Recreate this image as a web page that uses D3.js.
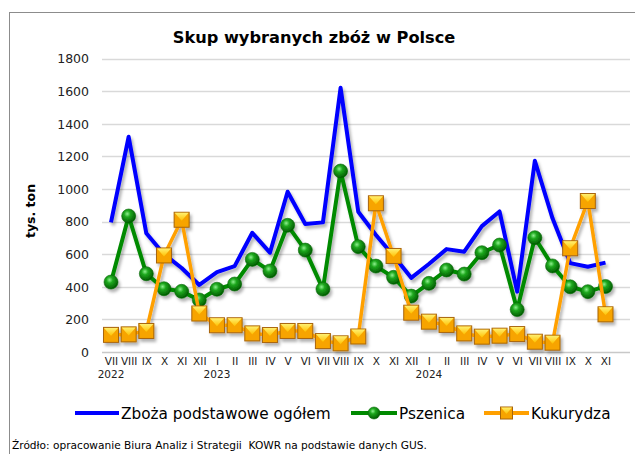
<!DOCTYPE html>
<html><head><meta charset="utf-8">
<script src="https://cdn.jsdelivr.net/npm/d3@7"></script>
<style>body{margin:0;background:#fff}svg{display:block}text{font-family:Verdana,"DejaVu Sans",sans-serif}</style>
</head><body>
<svg id="c" width="635" height="454"></svg>
<script>
const months = ["VII","VIII","IX","X","XI","XII","I","II","III","IV","V","VI","VII","VIII","IX","X","XI","XII","I","II","III","IV","V","VI","VII","VIII","IX","X","XI"];
const years = [{i:0,label:"2022"},{i:6,label:"2023"},{i:18,label:"2024"}];
const zboza = [795,1320,728,600,515,411,490,527,731,609,983,785,795,1620,860,718,590,455,540,631,615,772,862,370,1173,820,545,523,548];
const pszenica = [429,834,480,388,372,319,385,417,568,497,777,625,386,1110,646,527,458,343,421,503,478,609,656,260,701,528,400,370,402];
const kukurydza = [105,108,129,592,811,236,164,164,114,104,129,129,67,53,95,912,589,241,186,166,114,94,100,110,63,57,636,926,231];
const yTicks = [0,200,400,600,800,1000,1200,1400,1600,1800];
const seriesNames = ["Zboża podstawowe ogółem","Pszenica","Kukurydza"];

const svg = d3.select("#c");
const x = d3.scalePoint().domain(d3.range(months.length)).range([111, 605.5]);
const y = d3.scaleLinear().domain([0,1800]).range([352, 58.5]);

const defs = svg.append("defs");
const f = defs.append("filter").attr("id","sh").attr("x","-10%").attr("y","-10%").attr("width","130%").attr("height","130%");
f.append("feDropShadow").attr("dx",2).attr("dy",3).attr("stdDeviation",1.8).attr("flood-color","#000").attr("flood-opacity",0.3);
const rg = defs.append("radialGradient").attr("id","gball").attr("cx","40%").attr("cy","35%").attr("r","65%");
rg.append("stop").attr("offset","0%").attr("stop-color","#8ef08e");
rg.append("stop").attr("offset","35%").attr("stop-color","#1ea81e");
rg.append("stop").attr("offset","100%").attr("stop-color","#005a00");
const lg = defs.append("linearGradient").attr("id","otop").attr("x1","0").attr("y1","0").attr("x2","0").attr("y2","1");
lg.append("stop").attr("offset","0%").attr("stop-color","#fff070");
lg.append("stop").attr("offset","100%").attr("stop-color","#ffc000");

// frame
svg.append("rect").attr("x",9.5).attr("y",12.5).attr("width",700).attr("height",500)
  .attr("fill","#fff").attr("stroke","#8c8c8c").attr("stroke-width",1);

// title
svg.append("text").attr("x",314).attr("y",43).attr("text-anchor","middle")
  .attr("font-weight","bold").attr("font-size",16.2).attr("fill","#000").text("Skup wybranych zbóż w Polsce");

// grid
svg.append("g").selectAll("line").data(yTicks).join("line")
  .attr("x1",102).attr("x2",630).attr("y1",d=>Math.round(y(d))+0.5).attr("y2",d=>Math.round(y(d))+0.5)
  .attr("stroke",d=>d===0?"#c8c8c8":"#d9d9d9").attr("stroke-width",1.5);

// y axis labels
const yAxis = d3.axisLeft(y).tickValues(yTicks).tickFormat(d3.format("d")).tickSize(0).tickPadding(0);
const ya = svg.append("g").attr("transform","translate(89,0)").call(yAxis);
ya.select(".domain").remove();
ya.selectAll("text").attr("font-size",12.5).attr("fill","#222").attr("font-family",'Verdana,"DejaVu Sans",sans-serif').attr("dy","0.35em");

// x axis labels
const xAxis = d3.axisBottom(x).tickFormat(i=>months[i]).tickSize(0).tickPadding(0);
const xa = svg.append("g").attr("transform","translate(0,358)").call(xAxis);
xa.select(".domain").remove();
xa.selectAll("text").attr("font-size",10.5).attr("fill","#222").attr("font-family",'Verdana,"DejaVu Sans",sans-serif').attr("dy","0.71em");
svg.selectAll("text.year").data(years).join("text").attr("class","year")
  .attr("x",d=>x(d.i)).attr("y",378).attr("text-anchor","middle").attr("font-size",10.5).attr("fill","#222").text(d=>d.label);

// y title
svg.append("text").attr("transform","translate(34.5,211) rotate(-90)").attr("text-anchor","middle")
  .attr("font-weight","bold").attr("font-size",12.5).attr("fill","#000").text("tys. ton");

const line = d3.line().x((d,i)=>x(i)).y(d=>y(d));
const plot = svg.append("g").attr("filter","url(#sh)");

function ball(sel){ sel.attr("r",7).attr("fill","url(#gball)").attr("stroke","#0a6a0a").attr("stroke-width",0.6); }
function sq(gsel, cx, cy, s){
  const h = s/2;
  gsel.append("rect").attr("x",cx-h).attr("y",cy-h).attr("width",s).attr("height",s)
    .attr("fill","#f7a400").attr("stroke","#a8650a").attr("stroke-width",1);
  gsel.append("path").attr("d",`M${cx-h+0.5},${cy-h+0.5}L${cx+h-0.5},${cy-h+0.5}L${cx},${cy+1}Z`).attr("fill","url(#otop)");
}

plot.append("path").datum(zboza).attr("d",line).attr("fill","none").attr("stroke","#0000ff").attr("stroke-width",4).attr("stroke-linejoin","round");
plot.append("path").datum(pszenica).attr("d",line).attr("fill","none").attr("stroke","#008a00").attr("stroke-width",4).attr("stroke-linejoin","round");
plot.selectAll("circle.p").data(pszenica).join("circle").attr("class","p").attr("cx",(d,i)=>x(i)).attr("cy",d=>y(d)).call(ball);
plot.append("path").datum(kukurydza).attr("d",line).attr("fill","none").attr("stroke","#ffa000").attr("stroke-width",3.5).attr("stroke-linejoin","round");
const sqg = plot.append("g");
kukurydza.forEach((d,i)=>{ sq(sqg.append("g"), x(i), y(d), 15); });

// legend
const ly = 413;
const leg = svg.append("g");
leg.append("line").attr("x1",75).attr("x2",119).attr("y1",ly).attr("y2",ly).attr("stroke","#0000ff").attr("stroke-width",4);
leg.append("text").attr("x",121).attr("y",ly+5.5).attr("font-size",15.3).attr("fill","#000").text(seriesNames[0]);
leg.append("line").attr("x1",351).attr("x2",397).attr("y1",ly).attr("y2",ly).attr("stroke","#008a00").attr("stroke-width",4);
leg.append("circle").attr("cx",374).attr("cy",ly).call(ball).attr("r",6);
leg.append("text").attr("x",399).attr("y",ly+5.5).attr("font-size",15.3).attr("fill","#000").text(seriesNames[1]);
leg.append("line").attr("x1",484).attr("x2",529).attr("y1",ly).attr("y2",ly).attr("stroke","#ffa000").attr("stroke-width",4);
sq(leg.append("g"), 506.5, ly, 12);
leg.append("text").attr("x",531).attr("y",ly+5.5).attr("font-size",15.3).attr("fill","#000").text(seriesNames[2]);

svg.append("text").attr("x",12).attr("y",449).attr("font-size",10.6).attr("fill","#000")
  .style("white-space","pre")
  .text("Źródło: opracowanie Biura Analiz i Strategii  KOWR na podstawie danych GUS.");
</script>
</body></html>
